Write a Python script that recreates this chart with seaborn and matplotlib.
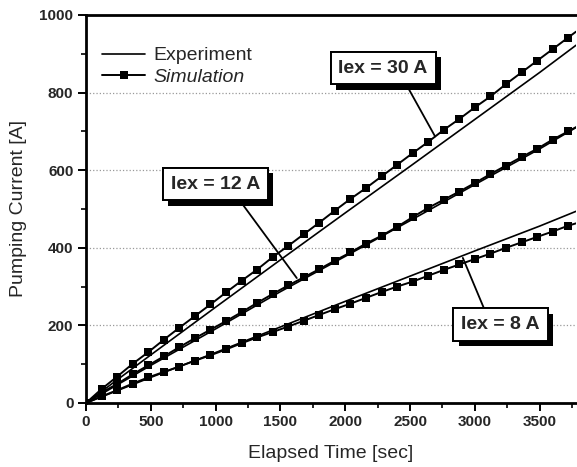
import matplotlib
matplotlib.use("Agg")
import matplotlib.pyplot as plt
import matplotlib.patheffects as pe
from matplotlib.lines import Line2D
from matplotlib.ticker import MultipleLocator
import pandas as pd
import seaborn as sns

# ---- data ----
sim_time = [0, 120, 240, 360, 480, 600, 720, 840, 960, 1080, 1200, 1320, 1440,
            1560, 1680, 1800, 1920, 2040, 2160, 2280, 2400, 2520, 2640, 2760,
            2880, 3000, 3120, 3240, 3360, 3480, 3600, 3720]
sim_30 = [0, 36, 68, 101, 131, 163, 194, 224, 254, 285, 315, 344, 376, 405, 435,
          465, 496, 526, 554, 584, 614, 644, 673, 704, 732, 762, 790, 822, 852,
          882, 912, 942]
sim_12 = [0, 27, 49, 74, 97, 120, 144, 167, 189, 211, 234, 258, 281, 303, 324,
          345, 367, 388, 411, 431, 454, 479, 503, 524, 545, 567, 590, 612, 634,
          655, 679, 700]
sim_8 = [0, 17, 33, 50, 66, 80, 94, 109, 123, 138, 154, 169, 183, 197, 212, 227,
         242, 256, 271, 286, 300, 313, 328, 343, 357, 371, 385, 400, 414, 428,
         442, 457]
# value where each simulation line leaves the plot at the right edge
edge_time = 3780
sim_edge = {"30": 957, "12": 711, "8": 463}

exp_time = [0, 500, 1000, 1500, 2000, 2500, 3000, 3500, 3780]
exp_30 = [0, 124, 247, 369, 490, 610, 731, 852, 922]
exp_12 = [0, 97, 191, 287, 378, 470, 563, 655, 710]
exp_8 = [0, 66, 130, 196, 262, 327, 392, 456, 494]

x_ticks = [0, 500, 1000, 1500, 2000, 2500, 3000, 3500]
y_ticks = [0, 200, 400, 600, 800, 1000]

labels = [("Iex = 30 A", (2292, 863), (2693, 687), (0.71, 0.0)),
          ("Iex = 12 A", (997, 564), (1626, 322), (0.71, 0.0)),
          ("Iex = 8 A", (3197, 203), (2907, 374), (0.33, 1.0))]

# ---- figure ----
sns.set_style("white")
plt.rcParams["font.family"] = ["Liberation Sans", "DejaVu Sans"]

fig = plt.figure(figsize=(5.77, 4.67), dpi=100)
ax = fig.add_axes([86 / 577, 1 - 403 / 467, 490 / 577, 388 / 467])

sims = {"30": sim_30, "12": sim_12, "8": sim_8}
exps = {"30": exp_30, "12": exp_12, "8": exp_8}

for key in ["30", "12", "8"]:
    df_e = pd.DataFrame({"t": exp_time, "i": exps[key]})
    sns.lineplot(data=df_e, x="t", y="i", ax=ax, color="black", lw=1.2,
                 zorder=3)
    df_s = pd.DataFrame({"t": sim_time + [edge_time],
                         "i": sims[key] + [sim_edge[key]]})
    sns.lineplot(data=df_s, x="t", y="i", ax=ax, color="black", lw=1.4,
                 marker="s", markersize=5.4, markeredgewidth=0,
                 markevery=list(range(len(sim_time))), zorder=4)

ax.set_xlim(0, 3780)
ax.set_ylim(0, 1000)
ax.set_xticks(x_ticks)
ax.set_yticks(y_ticks)
ax.xaxis.set_minor_locator(MultipleLocator(250))
ax.yaxis.set_minor_locator(MultipleLocator(100))
ax.tick_params(which="major", direction="out", length=6, width=1.4,
               labelsize=11, color="black", pad=3, bottom=True, left=True)
ax.tick_params(which="minor", direction="out", length=3.5, width=1.2,
               color="black", bottom=True, left=True)
for lab in ax.get_xticklabels() + ax.get_yticklabels():
    lab.set_fontweight("bold")
ax.grid(axis="y", which="major", ls=":", lw=0.9, color="#999999")
ax.set_axisbelow(True)

for side in ["left", "bottom", "top"]:
    ax.spines[side].set_linewidth(2.0)
    ax.spines[side].set_color("black")
ax.spines["right"].set_visible(False)

ax.set_xlabel("Elapsed Time [sec]", fontsize=14, labelpad=11)
ax.set_ylabel("Pumping Current [A]", fontsize=14, labelpad=9)

handles = [Line2D([], [], color="black", lw=1.2),
           Line2D([], [], color="black", lw=1.4, marker="s", markersize=5.4,
                  markeredgewidth=0)]
leg = ax.legend(handles, ["Experiment", "Simulation"], loc="upper left",
                bbox_to_anchor=(0.033, 0.918), frameon=False, fontsize=14,
                handlelength=2.2, handletextpad=0.45, labelspacing=0.2,
                borderpad=0, borderaxespad=0)
leg.get_texts()[1].set_style("italic")

for text, box_xy, pt_xy, rel in labels:
    ann = ax.annotate(text, xy=pt_xy, xytext=box_xy, textcoords="data",
                      ha="center", va="center", fontsize=14, zorder=6,
                      fontweight="semibold",
                      bbox=dict(boxstyle="square,pad=0.4", fc="white",
                                ec="black", lw=1.4),
                      arrowprops=dict(arrowstyle="-", color="black", lw=1.3,
                                      shrinkA=0, shrinkB=0, relpos=rel))
    ann.get_bbox_patch().set_path_effects(
        [pe.withSimplePatchShadow(offset=(4, -4), shadow_rgbFace="black",
                                  alpha=1.0), pe.Normal()])

fig.savefig("out.png", dpi=100)
